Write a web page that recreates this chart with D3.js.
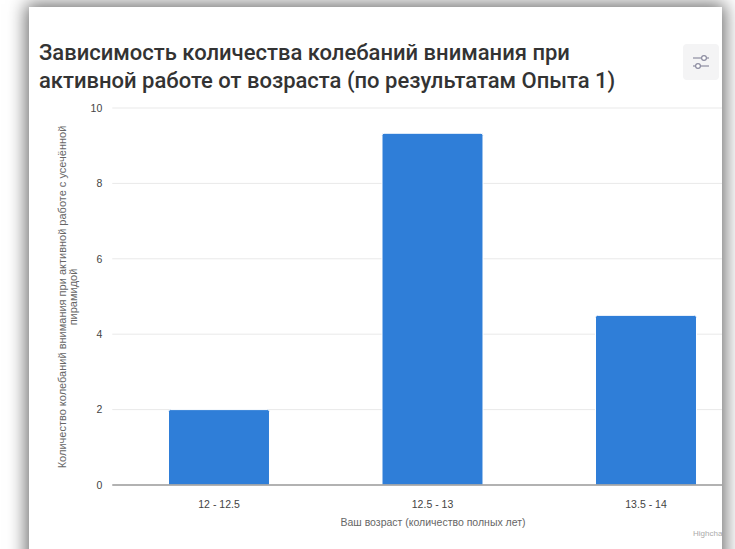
<!DOCTYPE html>
<html>
<head>
<meta charset="utf-8">
<script src="https://cdn.jsdelivr.net/npm/d3@7"></script>
<style>
  html, body { margin: 0; padding: 0; background: #fff; width: 735px; height: 549px; overflow: hidden; }
  #card {
    position: absolute; left: 29px; top: 7px; width: 693px; height: 620px;
    background: #fff; box-shadow: 0 0 17px 3px rgba(0,0,0,0.58); overflow: hidden;
  }
  svg { position: absolute; left: 0; top: 0; }
</style>
</head>
<body>
<div id="card"></div>
<script>
// Chart data
const categories = ["12 - 12.5", "12.5 - 13", "13.5 - 14"];
const values = [2, 9.33, 4.5];
const yTicks = [0, 2, 4, 6, 8, 10];
const titleLines = [
  "Зависимость количества колебаний внимания при",
  "активной работе от возраста (по результатам Опыта 1)"
];
const yTitleLines = [
  "Количество колебаний внимания при активной работе с усечённой",
  "пирамидой"
];
const xTitle = "Ваш возраст (количество полных лет)";
const credit = "Highcharts.com";

const cardX = 29, cardY = 7;
const svg = d3.select("#card").append("svg")
  .attr("width", 693).attr("height", 620);
// work in page coordinates
const g = svg.append("g").attr("transform", `translate(${-cardX},${-cardY})`);

const plot = { left: 112.25, right: 752.75, top: 108, bottom: 485 };

const x = d3.scaleBand()
  .domain(categories)
  .range([plot.left, plot.right])
  .paddingInner(0.527)
  .paddingOuter(0.2635);

const y = d3.scaleLinear().domain([0, 10]).range([plot.bottom, plot.top]);

// Title
const title = g.append("text")
  .attr("font-family", "Roboto, 'Noto Sans', sans-serif")
  .attr("font-weight", 500)
  .attr("font-size", 22)
  .attr("fill", "#333");
titleLines.forEach((t, i) => {
  title.append("tspan").attr("x", 39).attr("y", 60 + i * 28).text(t);
});

// Options button
const btn = g.append("g").attr("transform", "translate(683,44)");
btn.append("rect").attr("width", 36).attr("height", 36).attr("rx", 4).attr("fill", "#f4f4f5");
[[14, 1], [22, -1]].forEach(([yy, side]) => {
  btn.append("line").attr("x1", 10).attr("x2", 26).attr("y1", yy).attr("y2", yy)
    .attr("stroke", "#8c8ca0").attr("stroke-width", 1.2);
  btn.append("circle").attr("cx", side > 0 ? 21 : 15).attr("cy", yy).attr("r", 2.4)
    .attr("fill", "#fff").attr("stroke", "#8c8ca0").attr("stroke-width", 1.2);
});

// Grid lines
g.append("g").selectAll("line").data(yTicks.filter(d => d !== 0)).join("line")
  .attr("x1", plot.left).attr("x2", plot.right)
  .attr("y1", d => y(d)).attr("y2", d => y(d))
  .attr("stroke", "#e9e9e9").attr("stroke-width", 1);

// Y axis labels
const yAxis = d3.axisLeft(y).tickValues(yTicks).tickSize(0).tickPadding(0);
const ya = g.append("g").attr("transform", `translate(${plot.left - 10},0)`).call(yAxis);
ya.select(".domain").remove();
ya.selectAll("text")
  .attr("font-family", "'Liberation Sans', Arial, sans-serif")
  .attr("font-size", 10.5).attr("fill", "#444");

// Bars
g.append("g").selectAll("path").data(categories).join("path")
  .attr("d", (c, i) => {
    const x0 = x(c), w = x.bandwidth(), y0 = y(values[i]), y1 = y(0), r = 2;
    return `M${x0},${y1}V${y0 + r}Q${x0},${y0} ${x0 + r},${y0}H${x0 + w - r}Q${x0 + w},${y0} ${x0 + w},${y0 + r}V${y1}Z`;
  })
  .attr("fill", "#2f7ed8")
  .attr("stroke", "#fff").attr("stroke-width", 1);

// X axis
const xAxis = d3.axisBottom(x).tickSize(0).tickPadding(0);
const xa = g.append("g").attr("transform", `translate(0,${plot.bottom})`).call(xAxis);
xa.select(".domain").attr("stroke", "#999").attr("stroke-width", 1.5)
  .attr("d", `M${plot.left},0H${plot.right}`);
xa.selectAll("text")
  .attr("y", 23)
  .attr("dy", null)
  .attr("font-family", "'Liberation Sans', Arial, sans-serif")
  .attr("font-size", 10.5).attr("fill", "#444");

// Axis titles
g.append("text")
  .attr("x", 433).attr("y", 526)
  .attr("text-anchor", "middle")
  .attr("font-family", "'Liberation Sans', Arial, sans-serif")
  .attr("font-size", 10.5).attr("fill", "#666")
  .text(xTitle);

const yt = g.append("text")
  .attr("transform", "translate(62,297) rotate(-90)")
  .attr("text-anchor", "middle")
  .attr("font-family", "'Liberation Sans', Arial, sans-serif")
  .attr("font-size", 11).attr("fill", "#666");
yTitleLines.forEach((t, i) => {
  yt.append("tspan").attr("x", 0).attr("y", 3.5 + i * 11).text(t);
});

// Credit, clipped by the card edge
g.append("text")
  .attr("x", 693).attr("y", 536)
  .attr("font-family", "'Liberation Sans', Arial, sans-serif")
  .attr("font-size", 8).attr("fill", "#aaa")
  .text(credit);
</script>
</body>
</html>
